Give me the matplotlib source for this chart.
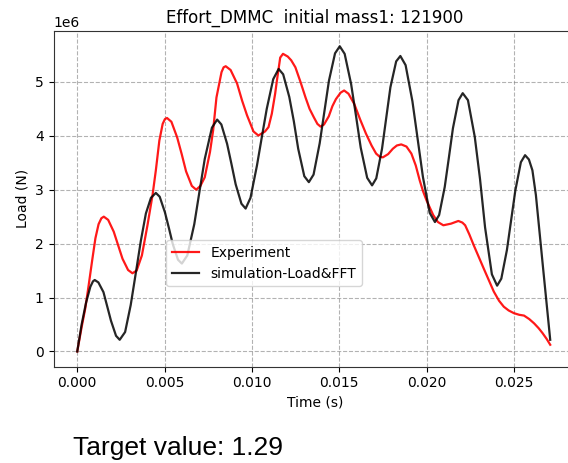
import numpy as np
import matplotlib.pyplot as plt

# Values (time in s, load in units of 1e6 N)
exp_time = [0.0, 0.00025, 0.00046, 0.00065, 0.00085, 0.00104, 0.00122, 0.00138,
            0.00152, 0.00177, 0.00209, 0.00234, 0.00259, 0.00291, 0.00316,
            0.0034, 0.0037, 0.00402, 0.00431, 0.0045, 0.0047, 0.00489, 0.00502,
            0.00514, 0.00539, 0.00572, 0.00598, 0.00623, 0.00656, 0.00681,
            0.00705, 0.0073, 0.0076, 0.00778, 0.00797, 0.00826, 0.00838,
            0.0085, 0.00878, 0.00915, 0.00944, 0.00972, 0.01009, 0.01037,
            0.01075, 0.01095, 0.01114, 0.01133, 0.01143, 0.01162, 0.01178,
            0.01205, 0.01225, 0.01249, 0.01278, 0.01307, 0.0133, 0.01355,
            0.01375, 0.01393, 0.01413, 0.0144, 0.01461, 0.01481, 0.01508,
            0.01528, 0.01553, 0.01586, 0.0162, 0.01653, 0.01685, 0.01711,
            0.01732, 0.0175, 0.0178, 0.01807, 0.0183, 0.01855, 0.01885,
            0.01913, 0.01938, 0.01961, 0.0198, 0.02, 0.02038, 0.02065,
            0.02096, 0.0214, 0.02182, 0.02205, 0.02221, 0.02245, 0.0227,
            0.02327, 0.02385, 0.02415, 0.02442, 0.0247, 0.025, 0.0253,
            0.02558, 0.02588, 0.02616, 0.02642, 0.02664, 0.02688, 0.02708]
exp_load = [0.0, 0.45, 0.80, 1.22, 1.68, 2.10, 2.36, 2.47,
            2.50, 2.44, 2.22, 1.97, 1.72, 1.51, 1.45,
            1.50, 1.78, 2.34, 2.90, 3.36, 3.91, 4.22, 4.31,
            4.33, 4.26, 3.97, 3.66, 3.34, 3.07, 3.00,
            3.07, 3.23, 3.70, 4.10, 4.71, 5.18, 5.27,
            5.29, 5.22, 4.97, 4.65, 4.38, 4.08, 4.005,
            4.08, 4.16, 4.41, 4.78, 5.02, 5.45, 5.52,
            5.47, 5.40, 5.27, 5.00, 4.71, 4.50, 4.34,
            4.22, 4.17, 4.21, 4.36, 4.55, 4.68, 4.80,
            4.84, 4.78, 4.59, 4.30, 4.04, 3.82, 3.67,
            3.61, 3.60, 3.66, 3.76, 3.82, 3.84, 3.80,
            3.67, 3.45, 3.17, 2.97, 2.80, 2.53, 2.40,
            2.34, 2.37, 2.42, 2.39, 2.34, 2.17, 1.97,
            1.54, 1.11, 0.94, 0.83, 0.76, 0.71, 0.68,
            0.665, 0.60, 0.52, 0.43, 0.34, 0.23, 0.124]

sim_time = [0.0, 0.00025, 0.0005, 0.00075, 0.0009, 0.001, 0.00121, 0.0015,
            0.00172, 0.00193, 0.00222, 0.00243, 0.00274, 0.00306, 0.00335,
            0.00364, 0.00393, 0.00422, 0.0045, 0.00472, 0.00502, 0.00525,
            0.00547, 0.00577, 0.00599, 0.0063, 0.0067, 0.007, 0.0073, 0.00771,
            0.00801, 0.00825, 0.00858, 0.00883, 0.00907, 0.0094, 0.00964,
            0.00992, 0.01029, 0.01057, 0.01085, 0.01122, 0.01153, 0.01179,
            0.01214, 0.0124, 0.01265, 0.013, 0.01326, 0.01353, 0.01388,
            0.01415, 0.01441, 0.01476, 0.01503, 0.01531, 0.01568, 0.01596,
            0.01623, 0.0166, 0.01688, 0.01712, 0.01745, 0.01769, 0.01793,
            0.01826, 0.0185, 0.0188, 0.01919, 0.01949, 0.01979, 0.02018,
            0.02048, 0.02072, 0.02104, 0.02128, 0.02151, 0.02183, 0.02207,
            0.02237, 0.02276, 0.02306, 0.02335, 0.02374, 0.02404, 0.02428,
            0.0246, 0.02484, 0.02508, 0.0254, 0.02564, 0.02586, 0.02606,
            0.02626, 0.02667, 0.02708]
sim_load = [0.0, 0.50, 0.90, 1.20, 1.30, 1.325, 1.28, 1.10,
            0.83, 0.57, 0.29, 0.216, 0.36, 0.86, 1.45,
            2.05, 2.56, 2.85, 2.94, 2.87, 2.58, 2.285,
            1.99, 1.70, 1.63, 1.78, 2.36, 2.97, 3.57, 4.15,
            4.30, 4.21, 3.85, 3.475, 3.10, 2.74, 2.65,
            2.85, 3.45, 3.98, 4.50, 5.05, 5.24, 5.14,
            4.72, 4.27, 3.76, 3.25, 3.14, 3.28, 3.86,
            4.45, 5.02, 5.53, 5.66, 5.52, 4.96, 4.37,
            3.78, 3.22, 3.08, 3.21, 3.76, 4.33, 4.90,
            5.38, 5.48, 5.31, 4.64, 3.94, 3.24, 2.57,
            2.40, 2.53, 3.05, 3.60, 4.14, 4.66, 4.79,
            4.66, 3.98, 3.20, 2.30, 1.43, 1.22, 1.35,
            1.88, 2.43, 2.98, 3.51, 3.64, 3.56, 3.36,
            2.90, 1.55, 0.216]

fig = plt.figure(figsize=(5.68, 4.63), dpi=100)
ax = fig.add_axes([0.0942, 0.208, 0.92, 0.725])

ax.plot(exp_time, np.array(exp_load) * 1e6, color='red', lw=1.6, alpha=0.9,
        label='Experiment')
ax.plot(sim_time, np.array(sim_load) * 1e6, color='black', lw=1.6, alpha=0.85,
        label='simulation-Load&FFT')

ax.set_xlim(-0.00136, 0.02856)
ax.set_title('Effort_DMMC  initial mass1: 121900', fontsize=12)
ax.set_xlabel('Time (s)')
ax.set_ylabel('Load (N)')
ax.grid(True, ls='--', color='gray', alpha=0.6, lw=0.8)
for s in ax.spines.values():
    s.set_color('#333333')

ax.legend(loc='upper left', bbox_to_anchor=(0.2923, 0.4816),
          bbox_transform=fig.transFigure, borderaxespad=0)

fig.text(0.1285, 0.0173, 'Target value: 1.29', fontsize=19,
         family=['Liberation Sans', 'DejaVu Sans'], va='baseline')

fig.savefig('out.png', dpi=100)
